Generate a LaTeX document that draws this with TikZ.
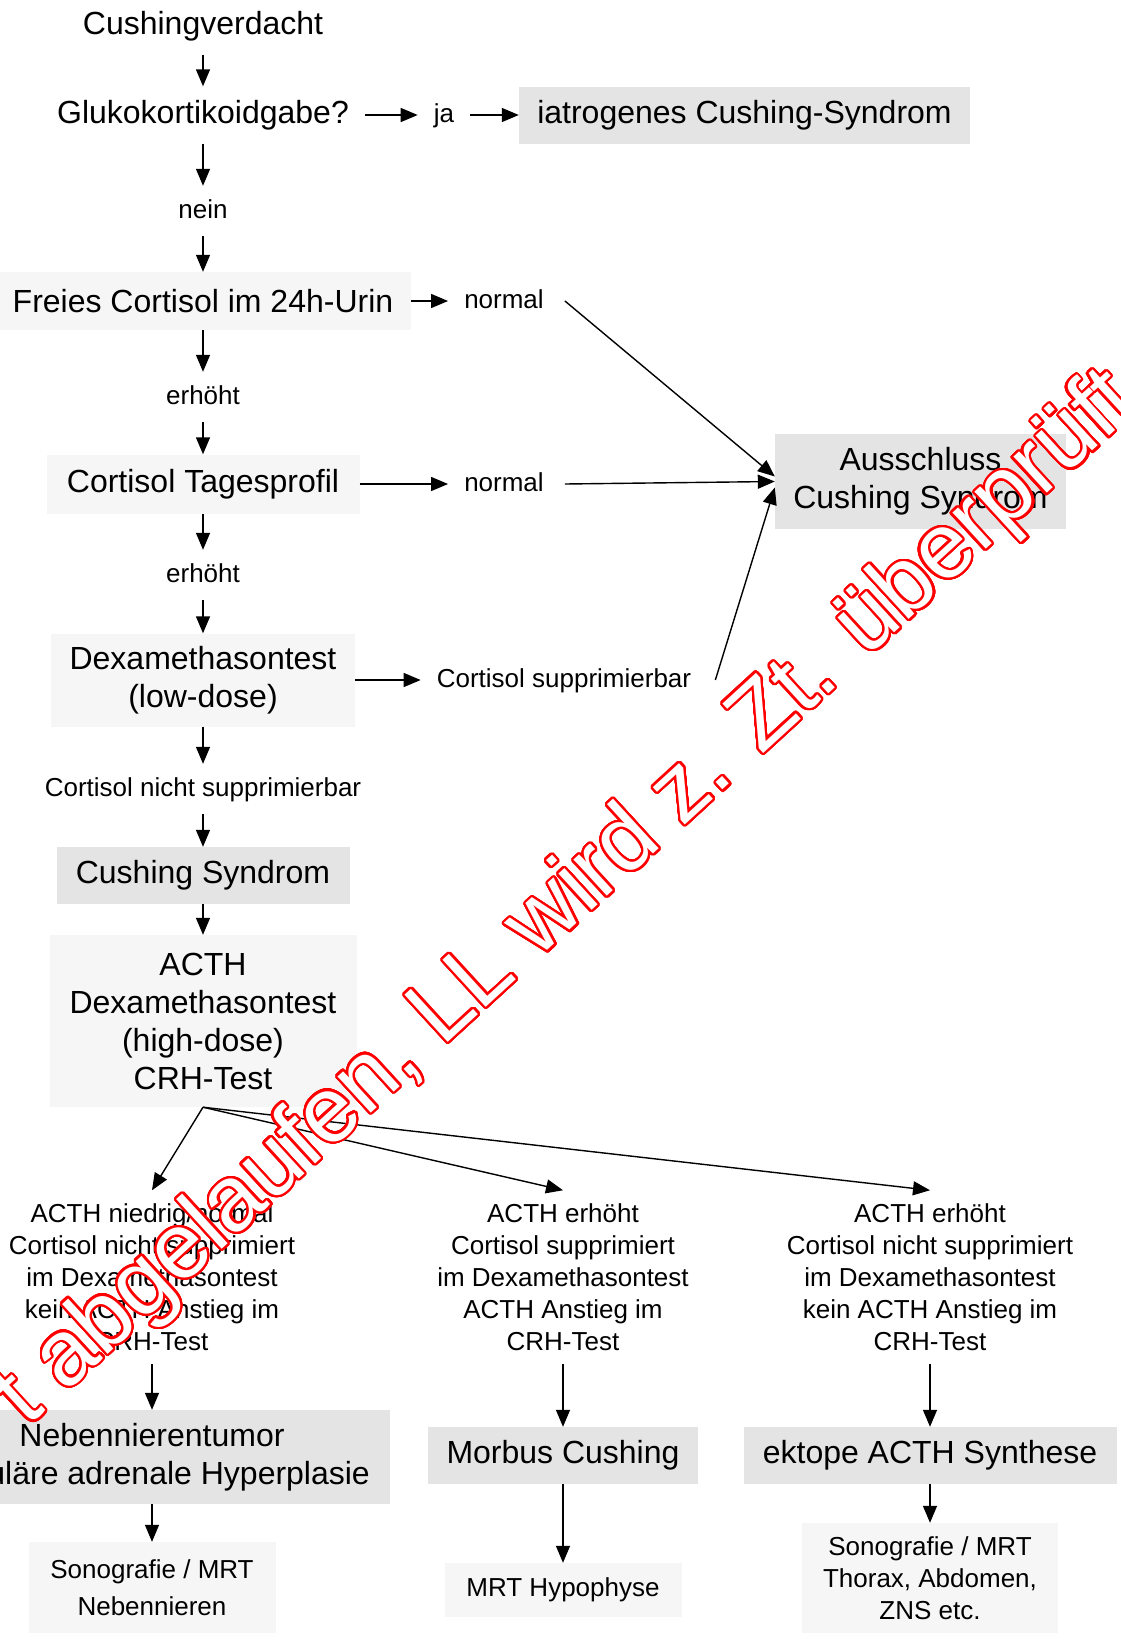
\documentclass[tikz,border=0pt]{standalone}
\usepackage{fontspec}
\setmainfont{Liberation Sans}
\usepackage{contour}
\usetikzlibrary{arrows.meta}

\contourlength{2.2pt}
\contournumber{48}

\definecolor{boxgray}{HTML}{E4E4E4}
\definecolor{boxlight}{HTML}{F6F6F6}

\tikzset{
  bigfont/.style={font=\fontsize{32}{38}\selectfont},
  smallfont/.style={font=\fontsize{26}{32}\selectfont},
  txt/.style={bigfont, inner xsep=16pt, inner ysep=13pt, text height=24pt, text depth=7pt},
  stxt/.style={smallfont, inner xsep=16pt, inner ysep=13pt, text height=19pt, text depth=5pt},
  block/.style={smallfont, inner xsep=16pt, inner ysep=13pt, align=center},
  graybox/.style={bigfont, fill=boxgray, inner sep=0pt, align=center},
  lightbox/.style={bigfont, fill=boxlight, inner sep=0pt, align=center},
  arr/.style={-{Triangle[length=17pt,width=14pt]}, line width=1.4pt},
}

\begin{document}
\begin{tikzpicture}[x=1pt, y=-1pt]
  \path[use as bounding box] (0,0) rectangle (1120,1641);
  \clip (0,0) rectangle (1120,1641);

  % main column
  \node[txt] (verd) at (203,26) {Cushingverdacht};
  \node[txt] (gluko) at (203,115) {Glukokortikoidgabe?};
  \node[stxt] (ja) at (444,115) {ja};
  \node[graybox, minimum width=451pt, minimum height=57pt] (iatro) at (744.5,115) {iatrogenes Cushing-Syndrom};
  \node[stxt] (nein) at (203,211) {nein};
  \node[lightbox, minimum width=416pt, minimum height=58pt] (urin) at (203,301) {Freies Cortisol im 24h-Urin};
  \node[stxt] (norm1) at (504,301) {normal};
  \node[stxt] (erh1) at (203,397) {erhöht};
  \node[lightbox, minimum width=313pt, minimum height=59pt] (tages) at (203,484) {Cortisol Tagesprofil};
  \node[stxt] (norm2) at (504,484) {normal};
  \node[graybox, minimum width=291pt, minimum height=95pt] (aus) at (920.5,481.5) {Ausschluss\\Cushing Syndrom};
  \node[stxt] (erh2) at (203,575) {erhöht};
  \node[lightbox, minimum width=304pt, minimum height=93pt] (dexlow) at (203,680) {Dexamethasontest\\(low-dose)};
  \node[stxt] (suppr) at (564,680) {Cortisol supprimierbar};
  \node[stxt] (nsuppr) at (203,789) {Cortisol nicht supprimierbar};
  \node[graybox, minimum width=293pt, minimum height=57pt] (cush) at (203,875.5) {Cushing Syndrom};
  \node[lightbox, minimum width=307pt, minimum height=172pt] (acth) at (203,1021) {ACTH\\Dexamethasontest\\(high-dose)\\CRH-Test};

  % three branches
  \node[block] (links) at (152,1277) {ACTH niedrig/normal\\Cortisol nicht supprimiert\\im Dexamethasontest\\kein ACTH Anstieg im\\CRH-Test};
  \node[block] (mitte) at (563,1277) {ACTH erhöht\\Cortisol supprimiert\\im Dexamethasontest\\ACTH Anstieg im\\CRH-Test};
  \node[block] (rechts) at (930,1277) {ACTH erhöht\\Cortisol nicht supprimiert\\im Dexamethasontest\\kein ACTH Anstieg im\\CRH-Test};

  \node[graybox, minimum width=476pt, minimum height=94pt] (neben) at (152,1457) {Nebennierentumor\\noduläre adrenale Hyperplasie};
  \node[graybox, minimum width=270pt, minimum height=57pt] (morbus) at (563,1455.5) {Morbus Cushing};
  \node[graybox, minimum width=373pt, minimum height=57pt] (ektop) at (930,1455.5) {ektope ACTH Synthese};

  \node[lightbox, font=\fontsize{26}{37}\selectfont, minimum width=247pt, minimum height=91pt] (sonoL) at (152,1587.5) {Sonografie / MRT\\Nebennieren};
  \node[lightbox, smallfont, minimum width=237pt, minimum height=54pt] (mrt) at (563,1590) {MRT Hypophyse};
  \node[lightbox, smallfont, minimum width=256pt, minimum height=110pt] (sonoR) at (930,1578) {Sonografie / MRT\\Thorax, Abdomen,\\ZNS etc.};

  \draw[arr] (verd.south) -- (gluko.north);
  \draw[arr] (gluko.east) -- (ja.west);
  \draw[arr] (ja.east) -- (iatro.west);
  \draw[arr] (gluko.south) -- (nein.north);
  \draw[arr] (nein.south) -- (urin.north);
  \draw[arr] (urin.east) -- (norm1.west);
  \draw[arr] (urin.south) -- (erh1.north);
  \draw[arr] (erh1.south) -- (tages.north);
  \draw[arr] (tages.east) -- (norm2.west);
  \draw[arr] (tages.south) -- (erh2.north);
  \draw[arr] (erh2.south) -- (dexlow.north);
  \draw[arr] (dexlow.east) -- (suppr.west);
  \draw[arr] (dexlow.south) -- (nsuppr.north);
  \draw[arr] (nsuppr.south) -- (cush.north);
  \draw[arr] (cush.south) -- (acth.north);

  \draw[arr] ([xshift=5pt]norm1.east) -- ([yshift=5pt]aus.west);
  \draw[arr] ([xshift=5pt]norm2.east) -- (aus.west);
  \draw[arr] ([xshift=8pt]suppr.east) -- ([yshift=-6pt]aus.west);

  \draw[arr] (acth.south) -- (links.north);
  \draw[arr] (acth.south) -- (mitte.north);
  \draw[arr] (acth.south) -- (rechts.north);
  \draw[arr] (links.south) -- (neben.north);
  \draw[arr] (mitte.south) -- (morbus.north);
  \draw[arr] (rechts.south) -- (ektop.north);
  \draw[arr] (neben.south) -- (sonoL.north);
  \draw[arr] (morbus.south) -- (mrt.north);
  \draw[arr] (ektop.south) -- (sonoR.north);

  % stamp
  \node[anchor=base west, rotate=42.5, inner sep=0pt, text=white,
        font=\fontsize{93}{93}\selectfont] (stempel) at (27,1428)
        {\contour{red}{t abgelaufen, LL wird z. Zt. überprüft}};
\end{tikzpicture}
\end{document}
